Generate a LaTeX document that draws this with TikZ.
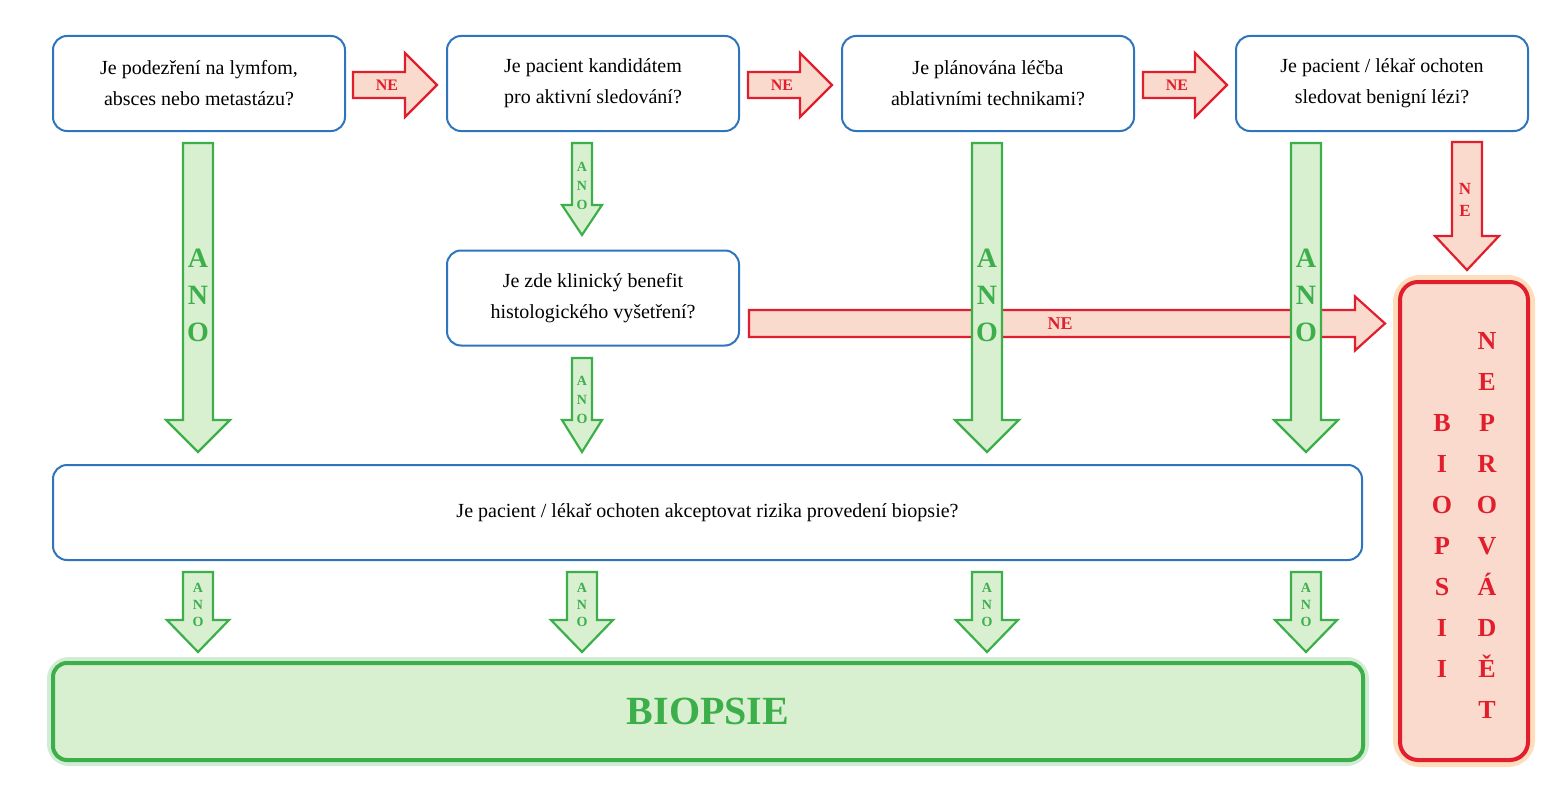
\documentclass[tikz,border=0pt]{standalone}
\usepackage{fontspec}
\setmainfont{Liberation Serif}
\definecolor{bl}{RGB}{46,117,190}
\definecolor{gr}{RGB}{60,175,75}
\definecolor{lgr}{RGB}{217,240,208}
\definecolor{rd}{RGB}{225,30,45}
\definecolor{pk}{RGB}{249,218,204}
\newcommand\vArrow[8]{% cx, ytop, yneck, ytip, halfshaft, halfhead, color, fill
 \draw[#7,line width=2.2pt,fill=#8,line join=miter] (#1-#5,#2)--(#1+#5,#2)--(#1+#5,#3)--(#1+#6,#3)--(#1,#4)--(#1-#6,#3)--(#1-#5,#3)--cycle;}
\newcommand\hArrow[8]{% cy, xleft, xneck, xtip, halfshaft, halfhead
 \draw[#7,line width=2.2pt,fill=#8,line join=miter] (#2,#1-#5)--(#3,#1-#5)--(#3,#1-#6)--(#4,#1)--(#3,#1+#6)--(#3,#1+#5)--(#2,#1+#5)--cycle;}
\begin{document}
\begin{tikzpicture}[x=1pt,y=-1pt,
 q/.style={draw=bl,line width=2pt,rounded corners=14pt,fill=white,align=center,font=\fontsize{20}{31}\selectfont,minimum width=292pt,minimum height=95pt,inner sep=0pt},
 lab/.style={font=\bfseries\fontsize{#1}{#1}\selectfont,align=center,inner sep=0pt},
 ano/.style={lab=28,text=gr},
 sano/.style={lab=14,text=gr},
 ne/.style={lab=16,text=rd}]
\useasboundingbox (0,0) rectangle (1559,800);
% boxes
\node[q] (b1) at (199,83.5) {Je podezření na lymfom,\\absces nebo metastázu?};
\node[q] (b2) at (593,83.5) {Je pacient kandidátem\\pro aktivní sledování?};
\node[q] (b3) at (988,83.5) {Je plánována léčba\\ablativními technikami?};
\node[q] (b4) at (1382,83.5) {Je pacient / lékař ochoten\\sledovat benigní lézi?};
\node[q] (b5) at (593,298) {Je zde klinický benefit\\histologického vyšetření?};
\node[q,minimum width=1309pt] (b6) at (707.5,512.5) {Je pacient / lékař ochoten akceptovat rizika provedení biopsie?};
% glows
\draw[gr!40,line width=12pt,opacity=.6,rounded corners=16pt] (53,663) rectangle (1363,760);
\draw[orange!45,line width=14pt,opacity=.6,rounded corners=20pt] (1400,282) rectangle (1528,760);
\node[draw=gr,line width=4pt,fill=lgr,rounded corners=14pt,minimum width=1310pt,minimum height=97pt,text=gr,font=\bfseries\fontsize{40}{40}\selectfont] (bio) at (708,711.5) {BIOPSIE};
\node[draw=rd,line width=4pt,fill=pk,rounded corners=18pt,minimum width=128pt,minimum height=478pt] (nep) at (1464,521) {};
\node[lab=26,text=rd,font=\bfseries\fontsize{26}{41}\selectfont] at (1487,525) {N\\E\\P\\R\\O\\V\\Á\\D\\Ě\\T};
\node[lab=26,text=rd,font=\bfseries\fontsize{26}{41}\selectfont] at (1442,546) {B\\I\\O\\P\\S\\I\\I};
% horizontal NE arrows
\foreach \a in {353,748,1143}{
 \hArrow{85}{\a}{\a+52}{\a+84}{13}{32}{rd}{pk}
 \node[ne] at (\a+34,85) {NE};}
% long NE arrow
\hArrow{323.5}{749}{1355}{1385}{13.5}{27}{rd}{pk}
\node[ne,font=\bfseries\fontsize{18}{18}\selectfont] at (1060,324) {NE};
% NE down arrow
\vArrow{1467}{142}{236}{270}{15}{32}{rd}{pk}
\node[ne,font=\bfseries\fontsize{17}{22}\selectfont] at (1465,200) {N\\E};
% big ANO arrows
\foreach \c in {198,987,1306}{
 \vArrow{\c}{143}{420}{452}{15}{32}{gr}{lgr}}
\node[ano,font=\bfseries\fontsize{28}{37}\selectfont] at (198,295) {A\\N\\O};
\node[ano,font=\bfseries\fontsize{28}{37}\selectfont] at (987,295) {A\\N\\O};
\node[ano,font=\bfseries\fontsize{28}{37}\selectfont] at (1306,295) {A\\N\\O};
% small ANO arrows
\vArrow{582}{143}{205}{235}{10}{20}{gr}{lgr}
\node[sano,font=\bfseries\fontsize{14}{19}\selectfont] at (582,186) {A\\N\\O};
\vArrow{582}{358}{420}{452}{10}{20}{gr}{lgr}
\node[sano,font=\bfseries\fontsize{14}{19}\selectfont] at (582,400) {A\\N\\O};
\foreach \c in {198,582,987,1306}{
 \vArrow{\c}{572}{620}{652}{15}{31}{gr}{lgr}
 \node[sano,font=\bfseries\fontsize{14}{17}\selectfont] at (\c,605) {A\\N\\O};}
\end{tikzpicture}
\end{document}
